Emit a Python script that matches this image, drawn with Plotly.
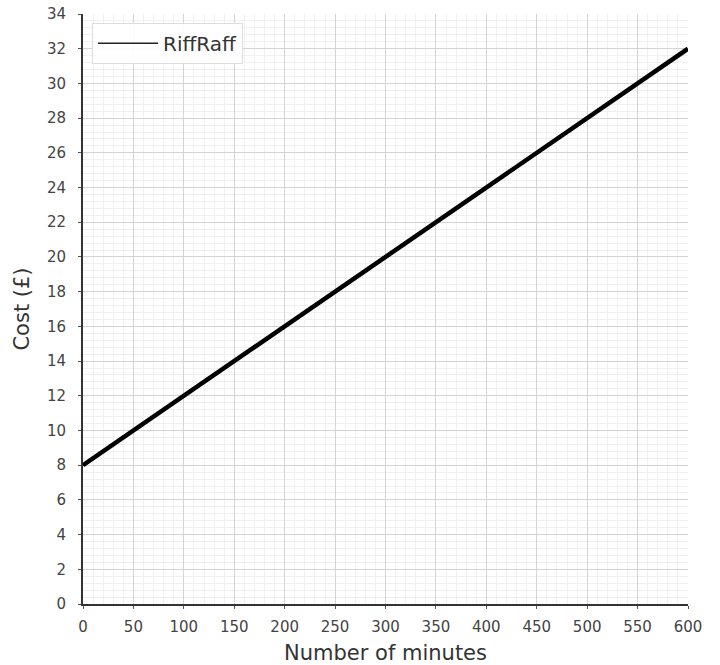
import plotly.graph_objects as go

minutes = [0, 600]
cost = [8, 32]
series_name = "RiffRaff"
x_ticks = list(range(0, 601, 50))
y_ticks = list(range(0, 35, 2))

fig = go.Figure()
fig.add_trace(go.Scatter(x=minutes, y=cost, mode="lines", name=series_name,
                         showlegend=False, line=dict(color="black", width=4.5)))
# legend entry with the thin sample line, as in the reference
fig.add_trace(go.Scatter(x=[None], y=[None], mode="lines", name=series_name,
                         line=dict(color="#222222", width=1.5)))

font = "DejaVu Sans"
fig.update_layout(
    width=720, height=665,
    margin=dict(l=83, r=32, t=14, b=61, autoexpand=False),
    paper_bgcolor="white", plot_bgcolor="white",
    font=dict(family=font, color="#444444", size=15),
    showlegend=True,
    legend=dict(x=0.015, y=0.985, xanchor="left", yanchor="top",
                bgcolor="rgba(255,255,255,0.9)", bordercolor="#dddddd", borderwidth=1,
                font=dict(size=20, family=font, color="#333333"),
                itemwidth=60),
)
fig.update_xaxes(range=[0, 600], tickvals=x_ticks, automargin=False, ticklabeloverflow="allow",
                 ticklabelstandoff=5,
                 title=dict(text="Number of minutes", font=dict(size=21, color="#333333"), standoff=10),
                 showgrid=True, gridcolor="#d4d4d4", gridwidth=1,
                 minor=dict(dtick=10, showgrid=True, gridcolor="#f0f0f0", gridwidth=1),
                 showline=True, linecolor="#333333", linewidth=2, zeroline=False,
                 ticks="outside", ticklen=3, tickcolor="#555555")
fig.update_yaxes(range=[0, 34], tickvals=y_ticks, automargin=False, ticklabeloverflow="allow",
                 ticklabelstandoff=9,
                 title=dict(text="Cost (£)", font=dict(size=21, color="#333333"), standoff=12),
                 showgrid=True, gridcolor="#d4d4d4", gridwidth=1,
                 minor=dict(dtick=0.4, showgrid=True, gridcolor="#f0f0f0", gridwidth=1),
                 showline=True, linecolor="#333333", linewidth=2, zeroline=False,
                 ticks="outside", ticklen=3, tickcolor="#555555")

fig.write_html("out.html", config={"displayModeBar": False},
               post_script="document.body.style.margin='0';")
